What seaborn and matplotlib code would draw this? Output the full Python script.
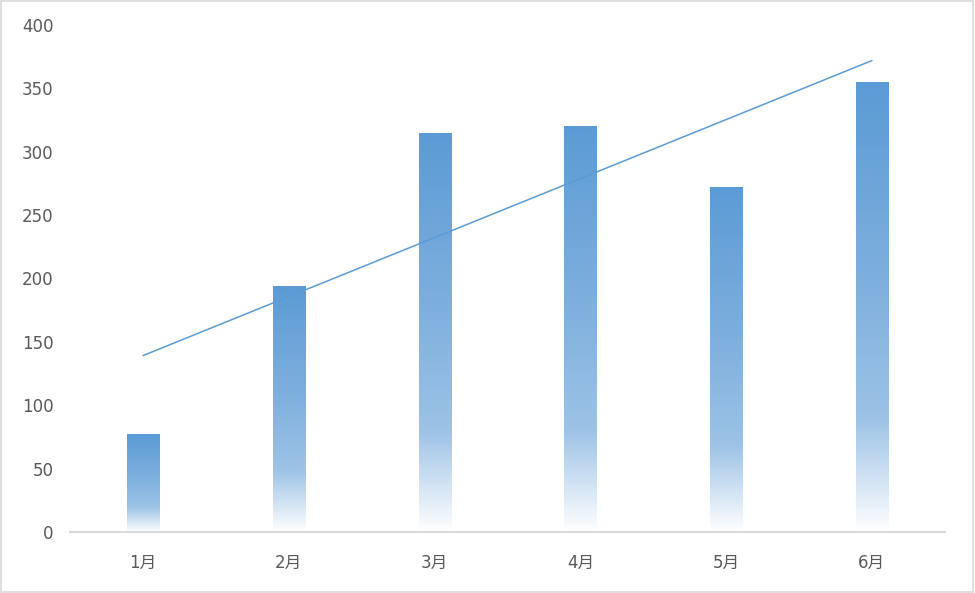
import matplotlib
matplotlib.use('Agg')
import matplotlib.pyplot as plt
from matplotlib.colors import LinearSegmentedColormap
from matplotlib.patches import Rectangle
import numpy as np
import pandas as pd
import seaborn as sns

# Data
months = ['1月', '2月', '3月', '4月', '5月', '6月']
sales = [77, 194, 315, 320, 272, 355]

sns.set_theme(style='white')
plt.rcParams['font.family'] = ['DejaVu Sans', 'Noto Sans CJK SC']

df = pd.DataFrame({'month': months, 'value': sales})

fig = plt.figure(figsize=(9.75, 5.93), dpi=100)
ax = fig.add_axes([0.072, 0.103, 0.897, 0.855])

sns.barplot(data=df, x='month', y='value', width=0.22, color='#5B9BD5', ax=ax)

# gradient fill: blue at top, fading to white at the bottom of each bar
cmap = LinearSegmentedColormap.from_list(
    'fade', [(0.0, '#ffffff'), (0.25, '#9DC3E6'), (0.55, '#7FB0DE'), (1.0, '#5B9BD5')])
grad = np.linspace(0, 1, 256).reshape(-1, 1)
for p in list(ax.patches):
    x0, y0 = p.get_x(), p.get_y()
    w, h = p.get_width(), p.get_height()
    p.set_facecolor('none')
    p.set_edgecolor('none')
    im = ax.imshow(grad, cmap=cmap, origin='lower', aspect='auto',
                   extent=[x0, x0 + w, y0, y0 + h], interpolation='bilinear', zorder=2)
    im.set_clip_path(p)

# linear trend line
xs = np.arange(len(sales))
k, b = np.polyfit(xs, sales, 1)
ax.plot(xs, k * xs + b, color='#5B9BD5', lw=1.1, zorder=3)

ax.set_xlim(-0.5, len(months) - 0.5)
ax.set_ylim(0, 400)
ax.set_yticks(range(0, 401, 50))
ax.set_xlabel('')
ax.set_ylabel('')

for s in ['top', 'right', 'left']:
    ax.spines[s].set_visible(False)
ax.spines['bottom'].set_color('#D9D9D9')
ax.spines['bottom'].set_linewidth(1.5)
ax.tick_params(axis='both', length=0, colors='#595959', labelsize=12)
ax.tick_params(axis='y', pad=12)
ax.tick_params(axis='x', pad=16)

# light frame around the chart area
fig.patches.append(Rectangle((0.001, 0.002), 0.997, 0.996, transform=fig.transFigure,
                             fill=False, edgecolor='#D9D9D9', lw=1.2))

fig.savefig('out.png', dpi=100, facecolor='white')
